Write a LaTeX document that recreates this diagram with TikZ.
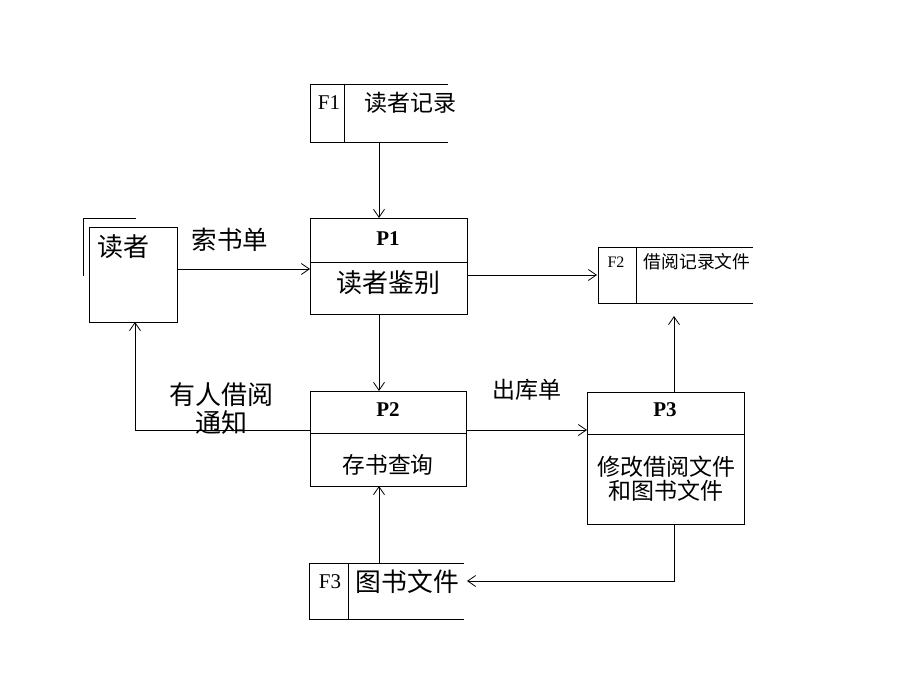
\documentclass[tikz,border=0pt]{standalone}
\usepackage{fontspec}
\setmainfont{Liberation Serif}
\newfontfamily\cjk{Noto Sans CJK SC}
\usetikzlibrary{arrows.meta,calc}
\begin{document}
\begin{tikzpicture}[x=1pt,y=-1pt,
  line width=0.8pt,
  arr/.style={-{Straight Barb[length=8pt,width=11pt]}},
  box/.style={draw=none,minimum width=#1,inner sep=0pt,outer sep=0pt},
  zh/.style={font=\cjk\fontsize{22}{26}\selectfont,inner sep=0pt},
  zhs/.style={font=\cjk\fontsize{17.8}{20}\selectfont,inner sep=0pt},
  pl/.style={font=\bfseries\fontsize{21}{24}\selectfont,inner sep=0pt},
  fl/.style={font=\fontsize{21}{24}\selectfont,inner sep=0pt}]
\useasboundingbox (0,0) rectangle (920,690);
% boxes (invisible nodes, outlines drawn below)
\node[box=138pt,minimum height=58pt] (f1) at (379,113) {};
\node[box=88pt,minimum height=95pt] (reader) at (133,274.5) {};
\node[box=157pt,minimum height=96pt] (p1) at (388.5,266) {};
\node[box=155pt,minimum height=56pt] (f2) at (675.5,275) {};
\node[box=156pt,minimum height=95pt] (p2) at (388,438.5) {};
\node[box=157pt,minimum height=132pt] (p3) at (665.5,458) {};
\node[box=155pt,minimum height=56pt] (f3) at (386.5,591) {};
% data stores
\draw (f1.north east) -- (f1.north west) -- (f1.south west) -- (f1.south east);
\draw ($(f1.north west)+(34,0)$) -- ($(f1.south west)+(34,0)$);
\draw (f2.north east) -- (f2.north west) -- (f2.south west) -- (f2.south east);
\draw ($(f2.north west)+(38,0)$) -- ($(f2.south west)+(38,0)$);
\draw (f3.north east) -- (f3.north west) -- (f3.south west) -- (f3.south east);
\draw ($(f3.north west)+(39,0)$) -- ($(f3.south west)+(39,0)$);
% reader
\draw (reader.north west) rectangle (reader.south east);
\draw ($(reader.north west)+(-6,49)$) -- ($(reader.north west)+(-6,-9)$) -- ($(reader.north west)+(47,-9)$);
% processes
\draw (p1.north west) rectangle (p1.south east);
\draw ($(p1.north west)+(0,44)$) -- ($(p1.north east)+(0,44)$);
\draw (p2.north west) rectangle (p2.south east);
\draw ($(p2.north west)+(0,42)$) -- ($(p2.north east)+(0,42)$);
\draw (p3.north west) rectangle (p3.south east);
\draw ($(p3.north west)+(0,42)$) -- ($(p3.north east)+(0,42)$);
% texts
\node[fl] (tf1) at (329,103) {F1};
\node[zh,font=\cjk\fontsize{23}{26}\selectfont] (tf1b) at (410.5,103) {读者记录};
\node[fl,font=\fontsize{16}{18}\selectfont] (tf2) at (616,262) {F2};
\node[zhs] (tf2b) at (697,262) {借阅记录文件};
\node[fl] (tf3) at (330,582) {F3};
\node[zh,font=\cjk\fontsize{25.8}{28}\selectfont] (tf3b) at (407.5,582) {图书文件};
\node[zh,font=\cjk\fontsize{26}{28}\selectfont] (treader) at (123,247) {读者};
\node[pl] (tp1) at (388,239) {P1};
\node[zh,font=\cjk\fontsize{26}{28}\selectfont] (tp1b) at (388,283) {读者鉴别};
\node[pl] (tp2) at (388,410) {P2};
\node[zh,font=\cjk\fontsize{22.7}{26}\selectfont] (tp2b) at (388,465) {存书查询};
\node[pl] (tp3) at (665,410) {P3};
\node[zh,font=\cjk\fontsize{23}{26}\selectfont,align=center] (tp3b) at (666,479) {修改借阅文件\\[-2pt]和图书文件};
\node[zh,font=\cjk\fontsize{25.5}{28}\selectfont] (l1) at (230,240) {索书单};
\node[zh,font=\cjk\fontsize{26}{28}\selectfont,align=center] (l2) at (221,409) {有人借阅\\通知};
\node[zh,font=\cjk\fontsize{23}{26}\selectfont] (l3) at (527,390) {出库单};
% connectors
\draw[arr] (f1.south) -- (f1.south |- p1.north);
\draw[arr] ([yshift=5.5pt]reader.east) -- ([yshift=-3pt]p1.west);
\draw[arr] (p1.east |- f2.west) -- ([xshift=-1pt]f2.west);
\draw[arr] (p1.south -| f1.south) -- (f1.south |- p2.north);
\draw[arr] ([yshift=8.5pt]p2.west) -- ($(reader.south |- p2.west)+(2,-8.5)$) -- ($(reader.south)+(2,0)$);
\draw[arr] ([yshift=8.5pt]p2.east) -- ($(p3.west |- p2.east)+(0,-8.5)$);
\draw[arr] ($(p3.north)+(8.5,0)$) -- ($(f2.south)+(-1.5,13)$);
\draw[arr] ($(p3.south)+(8.5,0)$) -- ($(p3.south |- f3.east)+(8.5,-10)$) -- ($(f3.east)+(3,-10)$);
\draw[arr] (f3.north -| f1.south) -- (f1.south |- p2.south);
\end{tikzpicture}
\end{document}
